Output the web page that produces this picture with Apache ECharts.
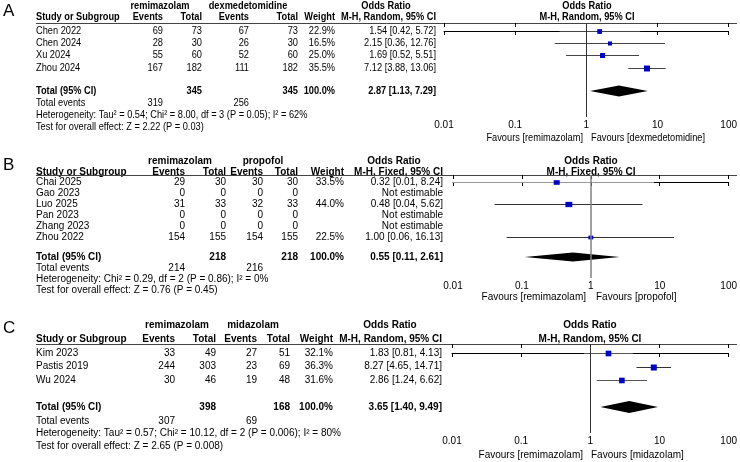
<!DOCTYPE html>
<html>
<head>
<meta charset="utf-8">
<script src="https://cdn.jsdelivr.net/npm/echarts@6/dist/echarts.min.js"></script>
<style>
html, body { margin: 0; padding: 0; background: #fff; }
#chart { width: 740px; height: 462px; }
</style>
</head>
<body>
<div id="chart"></div>
<script>
// shared labels
const colHeads = ['Study or Subgroup', 'Events', 'Total', 'Events', 'Total', 'Weight']
const tickLabels = ['0.01', '0.1', '1', '10', '100']

// A: remimazolam vs dexmedetomidine
const aStudies = ['Chen 2022', 'Chen 2024', 'Xu 2024', 'Zhou 2024']
const aEv1 = [69, 28, 55, 167]
const aTot1 = [73, 30, 60, 182]
const aEv2 = [67, 26, 52, 111]
const aTot2 = [73, 30, 60, 182]
const aWeight = [22.9, 16.5, 25.0, 35.5]
const aOR = [1.54, 2.15, 1.69, 7.12]
const aLo = [0.42, 0.36, 0.52, 3.88]
const aHi = [5.72, 12.76, 5.51, 13.06]
const aTotal = [2.87, 1.13, 7.29]
const aTotN = [345, 345]
const aTotEv = [319, 256]
const aGroups = ['remimazolam', 'dexmedetomidine']
const aMethod = 'M-H, Random, 95% CI'
const aHet = 'Heterogeneity: Tau² = 0.54; Chi² = 8.00, df = 3 (P = 0.05); I² = 62%'
const aTest = 'Test for overall effect: Z = 2.22 (P = 0.03)'
const aFavours = ['Favours [remimazolam]', 'Favours [dexmedetomidine]']

// B: remimazolam vs propofol
const bStudies = ['Chai 2025', 'Gao 2023', 'Luo 2025', 'Pan 2023', 'Zhang 2023', 'Zhou 2022']
const bEv1 = [29, 0, 31, 0, 0, 154]
const bTot1 = [30, 0, 33, 0, 0, 155]
const bEv2 = [30, 0, 32, 0, 0, 154]
const bTot2 = [30, 0, 33, 0, 0, 155]
const bWeight = [33.5, null, 44.0, null, null, 22.5]
const bOR = [0.32, null, 0.48, null, null, 1.00]
const bLo = [0.01, null, 0.04, null, null, 0.06]
const bHi = [8.24, null, 5.62, null, null, 16.13]
const bTotal = [0.55, 0.11, 2.61]
const bTotN = [218, 218]
const bTotEv = [214, 216]
const bGroups = ['remimazolam', 'propofol']
const bMethod = 'M-H, Fixed, 95% CI'
const bHet = 'Heterogeneity: Chi² = 0.29, df = 2 (P = 0.86); I² = 0%'
const bTest = 'Test for overall effect: Z = 0.76 (P = 0.45)'
const bFavours = ['Favours [remimazolam]', 'Favours [propofol]']

// C: remimazolam vs midazolam
const cStudies = ['Kim 2023', 'Pastis 2019', 'Wu 2024']
const cEv1 = [33, 244, 30]
const cTot1 = [49, 303, 46]
const cEv2 = [27, 23, 19]
const cTot2 = [51, 69, 48]
const cWeight = [32.1, 36.3, 31.6]
const cOR = [1.83, 8.27, 2.86]
const cLo = [0.81, 4.65, 1.24]
const cHi = [4.13, 14.71, 6.62]
const cTotal = [3.65, 1.40, 9.49]
const cTotN = [398, 168]
const cTotEv = [307, 69]
const cGroups = ['remimazolam', 'midazolam']
const cMethod = 'M-H, Random, 95% CI'
const cHet = 'Heterogeneity: Tau² = 0.57; Chi² = 10.12, df = 2 (P = 0.006); I² = 80%'
const cTest = 'Test for overall effect: Z = 2.65 (P = 0.008)'
const cFavours = ['Favours [remimazolam]', 'Favours [midazolam]']

const panels = [
  {
    tag: 'A', studies: aStudies, ev1: aEv1, tot1: aTot1, ev2: aEv2, tot2: aTot2, weight: aWeight,
    or: aOR, lo: aLo, hi: aHi, total: aTotal, totN: aTotN, totEv: aTotEv, groups: aGroups,
    method: aMethod, het: aHet, test: aTest, favours: aFavours,
    lay: {
      font: "'Liberation Sans', Arial, sans-serif", fs: 11, sx: 0.84, tickFs: 10,
      tagY: 11, groupY: 6, headY: 17, lineY: 23, rowY0: 31, dy: 12.2, totalY: 91, evY: 103, hetY: 115, testY: 127,
      axisY: 117, labMargin: 3, favY: 138, favL: 583, favR: 591,
      cols: [163, 202, 249, 298, 335, 436], grpX: [160, 248], orHeadX: 386, plotX: 587,
      gridLeft: 444, gridRight: 9, box: 1.0, boxW: 1.0, diamondH: 11, refColor: '#333', refWidth: 1,
      ciColors: ['#444', '#444', '#444', '#444']
    }
  },
  {
    tag: 'B', studies: bStudies, ev1: bEv1, tot1: bTot1, ev2: bEv2, tot2: bTot2, weight: bWeight,
    or: bOR, lo: bLo, hi: bHi, total: bTotal, totN: bTotN, totEv: bTotEv, groups: bGroups,
    method: bMethod, het: bHet, test: bTest, favours: bFavours,
    lay: {
      font: "'Liberation Sans', Arial, sans-serif", fs: 10, sx: 1, tickFs: 10,
      tagY: 165, groupY: 161, headY: 172, lineY: 175, rowY0: 182, dy: 11, totalY: 257, evY: 268, hetY: 279, testY: 290,
      axisY: 278, labMargin: 3, favY: 297, favL: 586, favR: 596,
      cols: [185, 226, 263, 298, 344, 443], grpX: [180, 263], orHeadX: 394, plotX: 591,
      gridLeft: 453, gridRight: 10, box: 0.8, boxW: 1.3, diamondH: 9, refColor: '#808080', refWidth: 1.5,
      ciColors: ['#999', '#333', '#333', '#333', '#333', '#333']
    }
  },
  {
    tag: 'C', studies: cStudies, ev1: cEv1, tot1: cTot1, ev2: cEv2, tot2: cTot2, weight: cWeight,
    or: cOR, lo: cLo, hi: cHi, total: cTotal, totN: cTotN, totEv: cTotEv, groups: cGroups,
    method: cMethod, het: cHet, test: cTest, favours: cFavours,
    lay: {
      font: "'Liberation Sans', Arial, sans-serif", fs: 10, sx: 1, tickFs: 10,
      tagY: 328, groupY: 325, headY: 339, lineY: 344, rowY0: 353, dy: 13.7, totalY: 407, evY: 421, hetY: 433, testY: 446,
      axisY: 433, labMargin: 3, favY: 455, favL: 583, favR: 591,
      cols: [175, 216, 257, 290, 333, 442], grpX: [177, 253], orHeadX: 390, plotX: 590,
      gridLeft: 452, gridRight: 10, box: 1.0, boxW: 1.0, diamondH: 12, refColor: '#333', refWidth: 1,
      ciColors: ['#555', '#333', '#555']
    }
  }
]

const myChart = echarts.init(document.getElementById('chart'))
const graphics = []
const grids = []
const xAxes = []
const yAxes = []
const series = []

function txt(L, x, y, s, align, bold) {
  graphics.push({
    type: 'text', x: x, y: y, scaleX: L.sx, silent: true,
    style: {
      text: String(s), fill: '#000', align: align || 'left', verticalAlign: 'middle',
      fontFamily: L.font, fontSize: L.fs, fontWeight: bold ? 'bold' : 'normal'
    }
  })
}

function fmtCI(or, lo, hi) {
  return or.toFixed(2) + ' [' + lo.toFixed(2) + ', ' + hi.toFixed(2) + ']'
}

panels.forEach(function(p, k) {
  const L = p.lay
  // panel letter
  graphics.push({
    type: 'text', x: 3, y: L.tagY, silent: true,
    style: { text: p.tag, fill: '#000', verticalAlign: 'middle', fontFamily: 'Liberation Sans, Arial, sans-serif', fontSize: 17 }
  })
  // group headers
  txt(L, L.grpX[0], L.groupY, p.groups[0], 'center', true)
  txt(L, L.grpX[1], L.groupY, p.groups[1], 'center', true)
  txt(L, L.orHeadX, L.groupY, 'Odds Ratio', 'center', true)
  txt(L, L.plotX, L.groupY, 'Odds Ratio', 'center', true)
  // column headers
  txt(L, 36, L.headY, colHeads[0], 'left', true)
  for (let c = 1; c < colHeads.length; c++) txt(L, L.cols[c - 1], L.headY, colHeads[c], 'right', true)
  txt(L, L.cols[5], L.headY, p.method, 'right', true)
  txt(L, L.plotX, L.headY, p.method, 'center', true)
  graphics.push({
    type: 'line', silent: true,
    shape: { x1: 36, y1: L.lineY + 0.5, x2: 737, y2: L.lineY + 0.5 },
    style: { stroke: '#444', lineWidth: 1 }
  })
  // study rows
  p.studies.forEach(function(name, i) {
    const y = L.rowY0 + i * L.dy
    txt(L, 36, y, name, 'left')
    txt(L, L.cols[0], y, p.ev1[i], 'right')
    txt(L, L.cols[1], y, p.tot1[i], 'right')
    txt(L, L.cols[2], y, p.ev2[i], 'right')
    txt(L, L.cols[3], y, p.tot2[i], 'right')
    if (p.weight[i] != null) txt(L, L.cols[4], y, p.weight[i].toFixed(1) + '%', 'right')
    txt(L, L.cols[5], y, p.or[i] != null ? fmtCI(p.or[i], p.lo[i], p.hi[i]) : 'Not estimable', 'right')
  })
  // totals
  txt(L, 36, L.totalY, 'Total (95% CI)', 'left', true)
  txt(L, L.cols[1], L.totalY, p.totN[0], 'right', true)
  txt(L, L.cols[3], L.totalY, p.totN[1], 'right', true)
  txt(L, L.cols[4], L.totalY, '100.0%', 'right', true)
  txt(L, L.cols[5], L.totalY, fmtCI(p.total[0], p.total[1], p.total[2]), 'right', true)
  txt(L, 36, L.evY, 'Total events', 'left')
  txt(L, L.cols[0], L.evY, p.totEv[0], 'right')
  txt(L, L.cols[2], L.evY, p.totEv[1], 'right')
  txt(L, 36, L.hetY, p.het, 'left')
  txt(L, 36, L.testY, p.test, 'left')
  txt(L, L.favL, L.favY, p.favours[0], 'right')
  txt(L, L.favR, L.favY, p.favours[1], 'left')

  // plot area
  grids.push({ left: L.gridLeft, right: L.gridRight, top: L.lineY, height: L.axisY - L.lineY })
  const logAxis = {
    type: 'log', logBase: 10, min: 0.01, max: 100, splitNumber: 4, gridIndex: k,
    splitLine: { show: false }, minorTick: { show: false }
  }
  xAxes.push(Object.assign({}, logAxis, {
    axisLine: { lineStyle: { color: '#000', width: 1 } },
    axisTick: { length: 4, lineStyle: { color: '#000' } },
    axisLabel: {
      color: '#000', fontFamily: L.font, fontSize: L.tickFs, margin: L.labMargin,
      formatter: function(v) { return tickLabels[Math.round(Math.log10(v)) + 2] }
    }
  }))
  xAxes.push(Object.assign({}, logAxis, {
    axisLine: { show: false },
    axisTick: { inside: true, length: 4, lineStyle: { color: '#000' } },
    axisLabel: { show: false }
  }))
  yAxes.push({
    type: 'value', gridIndex: k, inverse: true, show: false,
    min: (L.lineY - L.rowY0) / L.dy, max: (L.axisY - L.rowY0) / L.dy
  })

  const rows = []
  p.studies.forEach(function(name, i) {
    if (p.or[i] != null) rows.push([p.lo[i], p.hi[i], p.or[i], i, p.weight[i]])
  })
  series.push({
    type: 'custom', xAxisIndex: 2 * k, yAxisIndex: k, clip: false, silent: true,
    data: rows,
    renderItem: function(params, api) {
      const row = api.value(3)
      const pl = api.coord([api.value(0), row])
      const ph = api.coord([api.value(1), row])
      const pc = api.coord([api.value(2), row])
      const s = Math.sqrt(api.value(4)) * L.box
      const w = s * L.boxW
      const y = Math.round(pc[1]) + 0.5
      return {
        type: 'group',
        children: [
          { type: 'line', shape: { x1: pl[0], y1: y, x2: ph[0], y2: y }, style: { stroke: L.ciColors[row], lineWidth: 1 } },
          { type: 'rect', shape: { x: pc[0] - w / 2, y: y - s / 2, width: w, height: s }, style: { fill: '#0000c8' } }
        ]
      }
    },
    markLine: {
      silent: true, symbol: 'none', label: { show: false },
      lineStyle: { color: L.refColor, width: L.refWidth, type: 'solid' },
      data: [{ xAxis: 1 }]
    }
  })
  series.push({
    type: 'custom', xAxisIndex: 2 * k, yAxisIndex: k, clip: false, silent: true,
    data: [[p.total[1], p.total[2], p.total[0], (L.totalY - L.rowY0) / L.dy]],
    renderItem: function(params, api) {
      const pl = api.coord([api.value(0), api.value(3)])
      const ph = api.coord([api.value(1), api.value(3)])
      const pc = api.coord([api.value(2), api.value(3)])
      const h = L.diamondH / 2
      return {
        type: 'polygon',
        shape: { points: [[pl[0], pc[1]], [pc[0], pc[1] - h], [ph[0], pc[1]], [pc[0], pc[1] + h]] },
        style: { fill: '#000' }
      }
    }
  })
})

myChart.setOption({
  backgroundColor: '#fff',
  animation: false,
  grid: grids,
  xAxis: xAxes,
  yAxis: yAxes,
  series: series,
  graphic: graphics
})
</script>
</body>
</html>
